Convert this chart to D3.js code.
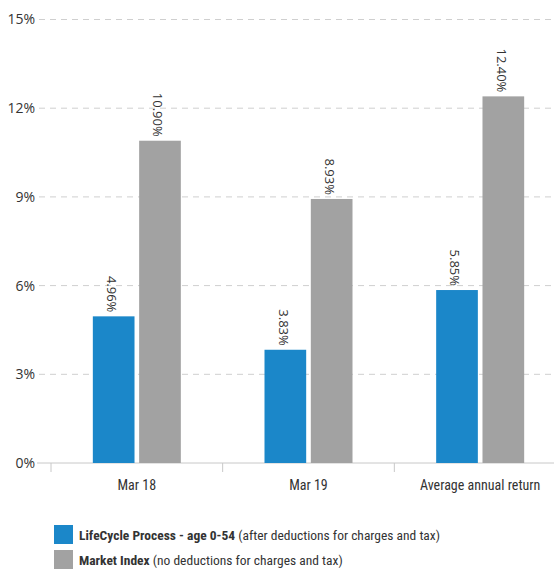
<!DOCTYPE html>
<html>
<head>
<meta charset="utf-8">
<script src="https://cdn.jsdelivr.net/npm/d3@7"></script>
<style>
  body { margin: 0; background: #fff; }
  svg text { font-family: "Liberation Sans Narrow", "Roboto Condensed", "Open Sans", sans-serif; fill: #333; }
</style>
</head>
<body>
<svg id="chart" width="554" height="570"></svg>
<script>
const categories = ["Mar 18", "Mar 19", "Average annual return"];
const seriesNames = ["LifeCycle Process - age 0-54", "Market Index"];
const seriesNotes = ["(after deductions for charges and tax)", "(no deductions for charges and tax)"];
const lifecycle = [4.96, 3.83, 5.85];
const marketIndex = [10.90, 8.93, 12.40];
const yTicks = [0, 3, 6, 9, 12, 15];
const colors = ["#1b87c9", "#a2a2a2"];

const svg = d3.select("#chart");
const y = d3.scaleLinear().domain([0, 15]).range([463, 19.5]);
const x = d3.scaleBand().domain(categories).range([51, 566]).padding(0);
const xs = d3.scaleBand().domain([0, 1]).range([-44, 44]).paddingInner(0.1);

// gridlines
svg.append("g").selectAll("line").data(yTicks.filter(d => d > 0)).join("line")
  .attr("x1", 39).attr("x2", 554)
  .attr("y1", d => y(d)).attr("y2", d => y(d))
  .attr("stroke", "#cfcfcf").attr("stroke-width", 1).attr("stroke-dasharray", "6,5");

// y labels
svg.append("g").selectAll("text").data(yTicks).join("text")
  .attr("x", 35).attr("y", d => y(d)).attr("dy", "0.35em")
  .attr("text-anchor", "end").style("font-family", "'Open Sans', sans-serif")
  .style("font-size", "14px").text(d => d + "%");

// x axis
const gx = svg.append("g").attr("transform", "translate(0,463)");
gx.append("line").attr("x1", 37).attr("x2", 554).attr("stroke", "#c8c8c8");
gx.selectAll("line.tick").data(categories).join("line").attr("class", "tick")
  .attr("x1", d => x(d)).attr("x2", d => x(d)).attr("y1", 0).attr("y2", 9)
  .attr("stroke", "#c8c8c8");
gx.selectAll("text").data(categories).join("text")
  .attr("x", d => x(d) + x.bandwidth() / 2).attr("y", 27)
  .attr("text-anchor", "middle").style("font-size", "14px").text(d => d);

// bars
const data = categories.map((c, i) => [
  { cat: c, s: 0, v: lifecycle[i] },
  { cat: c, s: 1, v: marketIndex[i] }
]).flat();

const cx = d => x(d.cat) + x.bandwidth() / 2 + xs(d.s);
svg.append("g").selectAll("rect").data(data).join("rect")
  .attr("x", cx).attr("width", xs.bandwidth())
  .attr("y", d => y(d.v)).attr("height", d => y(0) - y(d.v))
  .attr("fill", d => colors[d.s]);

svg.append("g").selectAll("text").data(data).join("text")
  .attr("transform", d => `translate(${cx(d) + xs.bandwidth() / 2 - 2},${y(d.v) - 4}) rotate(90)`)
  .attr("text-anchor", "end").attr("dy", "0.35em")
  .style("font-family", "'Open Sans', sans-serif")
  .style("font-size", "13px").text(d => d.v.toFixed(2) + "%");

// legend
const lg = svg.append("g");
seriesNames.forEach((n, i) => {
  const ly = 525 + i * 25;
  lg.append("rect").attr("x", 54).attr("y", ly).attr("width", 19).attr("height", 19).attr("fill", colors[i]);
  const t = lg.append("text").attr("x", 79).attr("y", ly + 10).attr("dy", "0.35em").style("font-size", "13.5px");
  t.append("tspan").style("font-weight", "bold").text(n);
  t.append("tspan").text(" " + seriesNotes[i]);
});
</script>
</body>
</html>
